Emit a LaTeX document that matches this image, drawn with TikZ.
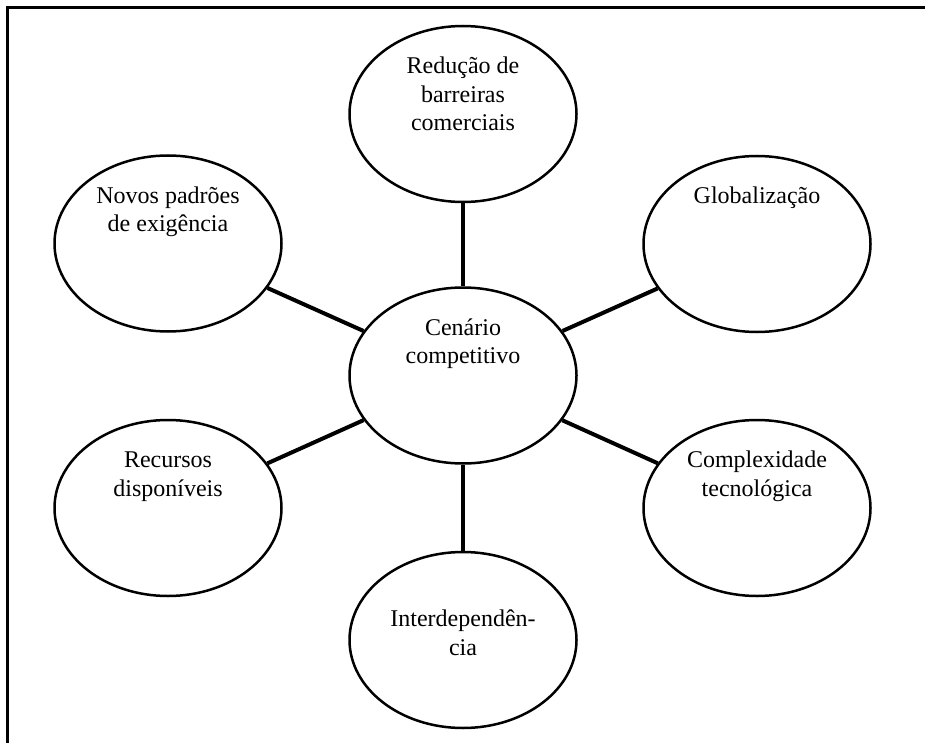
\documentclass[tikz,border=0pt]{standalone}
\usepackage{fontspec}
\setmainfont{Liberation Serif}
\usetikzlibrary{shapes.geometric}
\begin{document}
\begin{tikzpicture}[x=1pt,y=-1pt,
  ell/.style={ellipse, draw=black, line width=2.5pt, fill=white, inner sep=0pt,
    minimum width=227pt, minimum height=176pt},
  lbl/.style={anchor=base, align=center, inner sep=0pt,
    font=\fontsize{24}{28.3}\selectfont},
  one/.style={lbl, yshift=-49pt},
  two/.style={lbl, yshift=-77.3pt},
  three/.style={lbl, yshift=-105.6pt},
  link/.style={line width=4pt}]
\useasboundingbox (0,0) rectangle (925,743);
\draw[line width=2.5pt] (925,7.5) -- (7.5,7.5) -- (7.5,743);
\node[ell, label={[three]north:Redução de\\barreiras\\comerciais}] (t) at (463,114) {};
\node[ell, label={[two]north:Novos padrões\\de exigência}] (n) at (168,243.5) {};
\node[ell, label={[one]north:Globalização}] (g) at (757,244) {};
\node[ell, label={[two]north:Cenário\\competitivo}] (c) at (463,375.5) {};
\node[ell, label={[two]north:Recursos\\disponíveis}] (r) at (168,508) {};
\node[ell, label={[two]north:Complexidade\\tecnológica}] (x) at (757,508) {};
\node[ell, label={[lbl, yshift=-104.3pt]north:Interdependên-\\cia}] (i) at (463,640) {};
\draw[link] (t) -- (c);
\draw[link] (c) -- (i);
\draw[link] (n) -- (c);
\draw[link] (g) -- (c);
\draw[link] (r) -- (c);
\draw[link] (x) -- (c);
\end{tikzpicture}
\end{document}
